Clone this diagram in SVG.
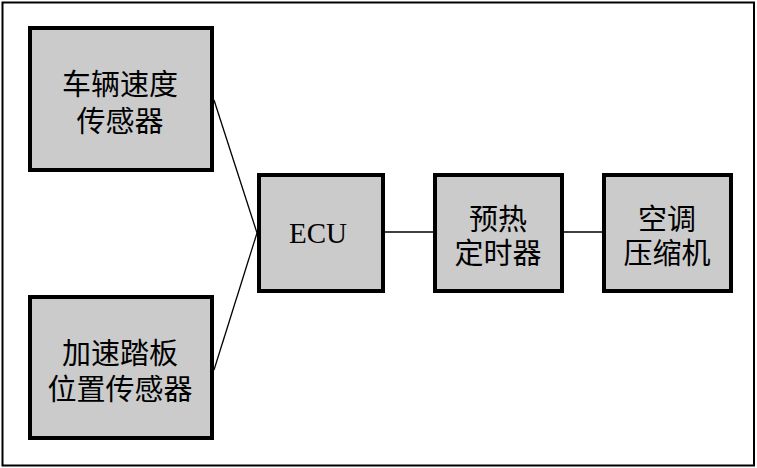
<svg xmlns="http://www.w3.org/2000/svg" width="757" height="468" viewBox="0 0 757 468">
<style>
.box{fill:#cbcbcb;stroke:#000;stroke-width:4}
.cjk{font-family:"Noto Sans CJK SC","Noto Sans",sans-serif;font-size:29px;fill:#000;text-anchor:middle;dominant-baseline:central}
.lat{font-family:"Liberation Serif",serif;font-size:29px;fill:#000;text-anchor:middle;dominant-baseline:central}
.ln{stroke:#000;stroke-width:1.3;fill:none}
</style>
<rect x="0" y="0" width="757" height="468" fill="#fff"/>
<rect x="2.5" y="2.5" width="751.5" height="463" fill="none" stroke="#000" stroke-width="2"/>
<g id="connectors">
<line class="ln" x1="214" y1="100" x2="257" y2="233"/>
<line class="ln" x1="214" y1="370" x2="257" y2="233"/>
<line class="ln" x1="385" y1="232" x2="433" y2="232"/>
<line class="ln" x1="564" y1="232" x2="602" y2="232"/>
</g>
<g id="speed-sensor">
<rect class="box" x="30" y="28" width="182" height="142"/>
<text class="cjk" x="120" y="82">车辆速度</text>
<text class="cjk" x="120" y="119">传感器</text>
</g>
<g id="pedal-sensor">
<rect class="box" x="30" y="297" width="182" height="141"/>
<text class="cjk" x="120" y="351">加速踏板</text>
<text class="cjk" x="120" y="387">位置传感器</text>
</g>
<g id="ecu">
<rect class="box" x="259" y="175" width="124" height="116"/>
<text class="lat" x="318" y="233">ECU</text>
</g>
<g id="timer">
<rect class="box" x="435" y="175" width="127" height="116"/>
<text class="cjk" x="498" y="217">预热</text>
<text class="cjk" x="498" y="251">定时器</text>
</g>
<g id="compressor">
<rect class="box" x="604" y="175" width="127" height="116"/>
<text class="cjk" x="667" y="217">空调</text>
<text class="cjk" x="667" y="251">压缩机</text>
</g>
</svg>
